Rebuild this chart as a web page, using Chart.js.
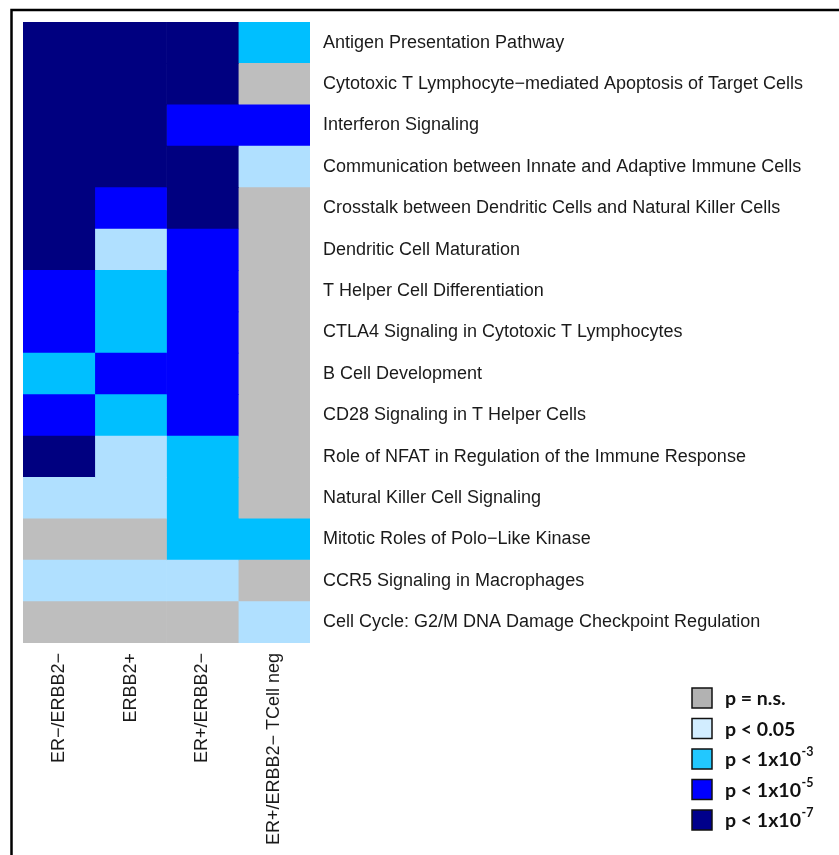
<!DOCTYPE html>
<html>
<head>
<meta charset="utf-8">
<script src="https://cdn.jsdelivr.net/npm/chart.js@4.4.1/dist/chart.umd.min.js"></script>
<style>
  html, body { margin: 0; padding: 0; background: #ffffff; }
  #wrap { width: 839px; height: 855px; }
</style>
</head>
<body>
<div id="wrap"><canvas id="c" width="839" height="855"></canvas></div>
<script>
// ---- Data ----
const columns = ['ER\u2212/ERBB2\u2212', 'ERBB2+', 'ER+/ERBB2\u2212', 'ER+/ERBB2\u2212 TCell neg'];
const pathways = [
  'Antigen Presentation Pathway',
  'Cytotoxic T Lymphocyte\u2212mediated Apoptosis of Target Cells',
  'Interferon Signaling',
  'Communication between Innate and Adaptive Immune Cells',
  'Crosstalk between Dendritic Cells and Natural Killer Cells',
  'Dendritic Cell Maturation',
  'T Helper Cell Differentiation',
  'CTLA4 Signaling in Cytotoxic T Lymphocytes',
  'B Cell Development',
  'CD28 Signaling in T Helper Cells',
  'Role of NFAT in Regulation of the Immune Response',
  'Natural Killer Cell Signaling',
  'Mitotic Roles of Polo\u2212Like Kinase',
  'CCR5 Signaling in Macrophages',
  'Cell Cycle: G2/M DNA Damage Checkpoint Regulation'
];
// significance level: 0 = n.s., 1 = p<0.05, 2 = p<1e-3, 3 = p<1e-5, 4 = p<1e-7
const erNegErbb2Neg   = [4,4,4,4,4,4,3,3,2,3,4,1,0,1,0];
const erbb2Pos        = [4,4,4,4,3,1,2,2,3,2,1,1,0,1,0];
const erPosErbb2Neg   = [4,4,3,4,4,3,3,3,3,3,2,2,2,1,0];
const erPosTcellNeg   = [2,0,3,1,0,0,0,0,0,0,0,0,2,0,1];
const levelValues = [erNegErbb2Neg, erbb2Pos, erPosErbb2Neg, erPosTcellNeg];

const legendText = ['p = n.s.', 'p < 0.05', 'p < 1x10', 'p < 1x10', 'p < 1x10'];
const legendExp  = ['', '', '-3', '-5', '-7'];

// ---- Styles ----
const cellColors   = ['#bebebe', '#b0e0ff', '#00bfff', '#0000ff', '#000080'];
const legendColors = ['#b2b2b2', '#d2edff', '#22c8ff', '#0000ff', '#00008b'];
const labelFont = '"Liberation Sans", Arial, sans-serif';

const datasets = levelValues.map((lv, i) => ({
  label: columns[i],
  data: lv.map(() => 1),
  backgroundColor: lv.map(v => cellColors[v]),
  borderWidth: 0,
  barPercentage: 1.0,
  categoryPercentage: 1.0
}));

const framePlugin = {
  id: 'frame',
  beforeDraw(chart) {
    const ctx = chart.ctx;
    ctx.save();
    ctx.fillStyle = '#ffffff';
    ctx.fillRect(0, 0, chart.width, chart.height);
    ctx.strokeStyle = '#000000';
    ctx.lineWidth = 2.5;
    ctx.beginPath();
    ctx.moveTo(11.5, 855);
    ctx.lineTo(11.5, 10);
    ctx.lineTo(839, 10);
    ctx.stroke();
    ctx.restore();
  }
};

const colLabelPlugin = {
  id: 'colLabels',
  afterDraw(chart) {
    const ctx = chart.ctx;
    const xs = chart.scales.x;
    const top = chart.chartArea.bottom + 10;
    ctx.save();
    ctx.font = '18px ' + labelFont;
    ctx.fillStyle = '#1a1a1a';
    ctx.textAlign = 'right';
    ctx.textBaseline = 'middle';
    columns.forEach((lab, i) => {
      const cx = xs.getPixelForValue(i + 0.5);
      ctx.save();
      ctx.translate(cx, top);
      ctx.rotate(-Math.PI / 2);
      ctx.fillText(lab, 0, 0);
      ctx.restore();
    });
    ctx.restore();
  }
};

const legendPlugin = {
  id: 'customLegend',
  afterDraw(chart) {
    const ctx = chart.ctx;
    const x0 = 692, y0 = 688, step = 30.5, box = 20;
    ctx.save();
    legendText.forEach((t, i) => {
      const y = y0 + i * step;
      ctx.fillStyle = legendColors[i];
      ctx.fillRect(x0, y, box, box);
      ctx.strokeStyle = '#111111';
      ctx.lineWidth = 1.5;
      ctx.strokeRect(x0, y, box, box);
      ctx.fillStyle = '#111111';
      ctx.font = 'bold 19.5px Lato, "Open Sans", sans-serif';
      ctx.textAlign = 'left';
      ctx.textBaseline = 'middle';
      const tx = x0 + 33;
      const ty = y + box / 2 + 1;
      ctx.fillText(t, tx, ty);
      if (legendExp[i]) {
        const w = ctx.measureText(t).width;
        ctx.font = 'bold 12.5px Lato, "Open Sans", sans-serif';
        ctx.fillText(legendExp[i], tx + w + 0.5, ty - 8);
      }
    });
    ctx.restore();
  }
};

new Chart(document.getElementById('c'), {
  type: 'bar',
  data: { labels: pathways, datasets },
  options: {
    indexAxis: 'y',
    responsive: false,
    animation: false,
    layout: { padding: { top: 22, left: 23, bottom: 212, right: 0 } },
    plugins: { legend: { display: false }, tooltip: { enabled: false } },
    scales: {
      x: { stacked: true, min: 0, max: 4, display: false },
      y: {
        stacked: true,
        position: 'right',
        grid: { display: false, drawTicks: false },
        border: { display: false },
        ticks: {
          padding: 13,
          color: '#1a1a1a',
          font: { family: labelFont, size: 18 },
          autoSkip: false
        },
        afterFit(scale) {
          scale.width = 529;
          scale.paddingTop = 0;
          scale.paddingBottom = 0;
        }
      }
    }
  },
  plugins: [framePlugin, colLabelPlugin, legendPlugin]
});
</script>
</body>
</html>
